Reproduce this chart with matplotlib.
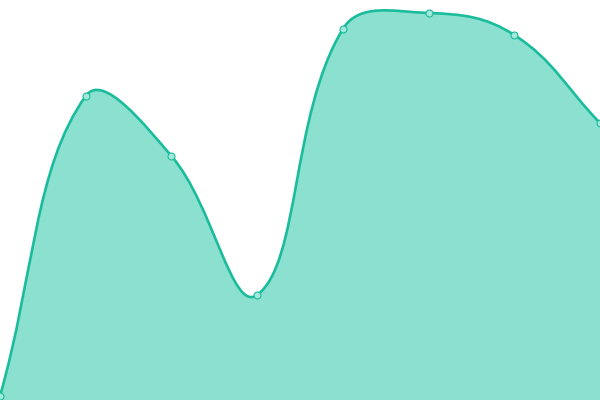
import numpy as np
import matplotlib
matplotlib.use("Agg")
import matplotlib.pyplot as plt
from matplotlib.path import Path
from matplotlib.patches import PathPatch

labels = ["A", "B", "C", "D", "E", "F", "G", "H"]
values = [4, 304, 244, 105, 371, 387, 365, 277]

line_color = "#1abc9c"
fill_color = "#8be0cf"
tension = 0.4

fig = plt.figure(figsize=(6, 4), dpi=100)
ax = fig.add_axes([0, 0, 1, 1])
ax.set_xlim(0, len(values) - 1)
ax.set_ylim(0, 400)
ax.axis("off")

x = np.arange(len(values), dtype=float)
pts = ax.transData.transform(np.column_stack([x, values]))

# chart.js style spline control points, computed in pixel space
n = len(pts)
verts = [pts[0]]
codes = [Path.MOVETO]
cps = []
for i in range(n):
    prev = pts[i - 1] if i > 0 else pts[i]
    cur = pts[i]
    nxt = pts[i + 1] if i < n - 1 else pts[i]
    d01 = np.hypot(*(cur - prev))
    d12 = np.hypot(*(nxt - cur))
    tot = d01 + d12
    s01 = d01 / tot if tot else 0
    s12 = d12 / tot if tot else 0
    cp_prev = cur - tension * s01 * (nxt - prev)
    cp_next = cur + tension * s12 * (nxt - prev)
    cps.append((cp_prev, cp_next))

for i in range(1, n):
    verts += [cps[i - 1][1], cps[i][0], pts[i]]
    codes += [Path.CURVE4] * 3

inv = ax.transData.inverted()
curve = inv.transform(np.array(verts))

line_path = Path(curve, codes)
fill_verts = np.vstack([curve, [[x[-1], 0], [x[0], 0], curve[0]]])
fill_codes = codes + [Path.LINETO, Path.LINETO, Path.CLOSEPOLY]
ax.add_patch(PathPatch(Path(fill_verts, fill_codes), facecolor=fill_color,
                       edgecolor="none", zorder=1))
ax.add_patch(PathPatch(line_path, facecolor="none", edgecolor=line_color,
                       linewidth=1.9, zorder=2, clip_on=False))
ax.plot(x, values, "o", markersize=5, markerfacecolor="#a3e8da",
        markeredgecolor=line_color, markeredgewidth=0.8, zorder=3, clip_on=True)

fig.savefig("out.png", dpi=100)
